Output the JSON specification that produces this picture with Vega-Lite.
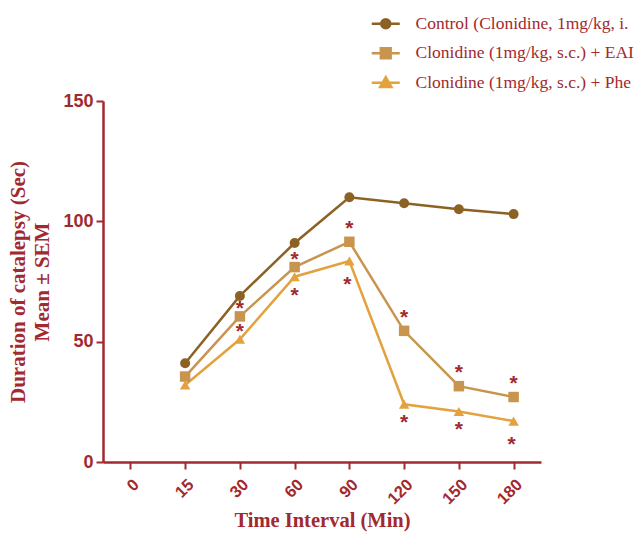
{
  "$schema": "https://vega.github.io/schema/vega-lite/v6.json",
  "autosize": "none",
  "width": 438,
  "height": 361,
  "padding": {"left": 103, "top": 101, "right": 100, "bottom": 74},
  "background": "white",
  "config": {"view": {"stroke": null}},
  "data": {"values": [
    {"time": "15", "series": "Control (Clonidine, 1mg/kg, i.", "value": 41, "sig": ""},
    {"time": "30", "series": "Control (Clonidine, 1mg/kg, i.", "value": 69, "sig": ""},
    {"time": "60", "series": "Control (Clonidine, 1mg/kg, i.", "value": 91, "sig": ""},
    {"time": "90", "series": "Control (Clonidine, 1mg/kg, i.", "value": 110, "sig": ""},
    {"time": "120", "series": "Control (Clonidine, 1mg/kg, i.", "value": 107.5, "sig": ""},
    {"time": "150", "series": "Control (Clonidine, 1mg/kg, i.", "value": 105, "sig": ""},
    {"time": "180", "series": "Control (Clonidine, 1mg/kg, i.", "value": 103, "sig": ""},
    {"time": "15", "series": "Clonidine (1mg/kg, s.c.) + EAI", "value": 35.5, "sig": ""},
    {"time": "30", "series": "Clonidine (1mg/kg, s.c.) + EAI", "value": 60.5, "sig": "*"},
    {"time": "60", "series": "Clonidine (1mg/kg, s.c.) + EAI", "value": 81, "sig": "*"},
    {"time": "90", "series": "Clonidine (1mg/kg, s.c.) + EAI", "value": 91.5, "sig": "*"},
    {"time": "120", "series": "Clonidine (1mg/kg, s.c.) + EAI", "value": 54.5, "sig": "*"},
    {"time": "150", "series": "Clonidine (1mg/kg, s.c.) + EAI", "value": 31.5, "sig": "*"},
    {"time": "180", "series": "Clonidine (1mg/kg, s.c.) + EAI", "value": 27, "sig": "*"},
    {"time": "15", "series": "Clonidine (1mg/kg, s.c.) + Phe", "value": 32, "sig": ""},
    {"time": "30", "series": "Clonidine (1mg/kg, s.c.) + Phe", "value": 51, "sig": "*"},
    {"time": "60", "series": "Clonidine (1mg/kg, s.c.) + Phe", "value": 77, "sig": "*"},
    {"time": "90", "series": "Clonidine (1mg/kg, s.c.) + Phe", "value": 83.5, "sig": "*"},
    {"time": "120", "series": "Clonidine (1mg/kg, s.c.) + Phe", "value": 24, "sig": "*"},
    {"time": "150", "series": "Clonidine (1mg/kg, s.c.) + Phe", "value": 21, "sig": "*"},
    {"time": "180", "series": "Clonidine (1mg/kg, s.c.) + Phe", "value": 17, "sig": "*"}
  ]},
  "encoding": {
    "x": {
      "field": "time", "type": "ordinal",
      "scale": {"type": "point", "padding": 0.5, "domain": ["0", "15", "30", "60", "90", "120", "150", "180"]},
      "axis": {
        "title": "Time Interval (Min)",
        "titleFont": "Liberation Serif", "titleFontSize": 20.5, "titleFontWeight": "bold", "titleColor": "#A2292E",
        "titlePadding": 3,
        "labelFont": "Liberation Sans", "labelFontSize": 16.5, "labelFontWeight": "bold", "labelColor": "#A2292E",
        "labelAngle": -45, "labelPadding": 7,
        "domainColor": "#A2292E", "domainWidth": 2.5,
        "tickColor": "#A2292E", "tickWidth": 2, "tickSize": 7,
        "grid": false
      }
    },
    "y": {
      "field": "value", "type": "quantitative",
      "scale": {"domain": [0, 150], "nice": false},
      "axis": {
        "title": ["Duration of catalepsy (Sec)", "Mean ± SEM"],
        "titleFont": "Liberation Serif", "titleFontSize": 21, "titleFontWeight": "bold", "titleColor": "#A2292E",
        "titlePadding": 10, "titleLineHeight": 24,
        "values": [0, 50, 100, 150],
        "labelFont": "Liberation Sans", "labelFontSize": 18, "labelFontWeight": "bold", "labelColor": "#A2292E",
        "labelPadding": 3,
        "domainColor": "#A2292E", "domainWidth": 2.5,
        "tickColor": "#A2292E", "tickWidth": 2, "tickSize": 7,
        "grid": false
      }
    }
  },
  "layer": [
    {
      "mark": {"type": "line", "strokeWidth": 2.5},
      "encoding": {
        "color": {
          "field": "series", "type": "nominal",
          "scale": {
            "domain": ["Control (Clonidine, 1mg/kg, i.", "Clonidine (1mg/kg, s.c.) + EAI", "Clonidine (1mg/kg, s.c.) + Phe"],
            "range": ["#8C6224", "#C8944E", "#E2A23E"]
          },
          "legend": {
            "title": null,
            "orient": "none", "legendX": 274, "legendY": -86,
            "labelFont": "Liberation Serif", "labelFontSize": 17.5, "labelColor": "#A2292E",
            "labelOffset": 21, "labelLimit": 400,
            "symbolSize": 196, "rowPadding": 8.5,
            "encode": {"symbols": {"update": {
              "shape": {"signal": "datum.index === 0 ? 'M-2,0H2M-0.65,0A0.65,0.65,0,1,0,0.65,0A0.65,0.65,0,1,0,-0.65,0Z' : datum.index === 1 ? 'M-2,0H2M-0.7,-0.7H0.7V0.7H-0.7Z' : 'M-2,0H2M0,-0.8L0.8,0.6H-0.8Z'"},
              "fill": {"scale": "color", "field": "value"},
              "stroke": {"scale": "color", "field": "value"},
              "strokeWidth": {"value": 2.5},
              "size": {"value": 196}
            }}}
          }
        }
      }
    },
    {
      "mark": {"type": "point", "filled": true, "size": 100, "opacity": 1, "shape": "circle"},
      "transform": [{"filter": "datum.series === 'Control (Clonidine, 1mg/kg, i.'"}],
      "encoding": {"color": {"field": "series", "type": "nominal", "legend": null}}
    },
    {
      "mark": {"type": "point", "filled": true, "size": 110, "opacity": 1, "shape": "square"},
      "transform": [{"filter": "datum.series === 'Clonidine (1mg/kg, s.c.) + EAI'"}],
      "encoding": {"color": {"field": "series", "type": "nominal", "legend": null}}
    },
    {
      "mark": {"type": "point", "filled": true, "size": 110, "opacity": 1, "shape": "triangle-up"},
      "transform": [{"filter": "datum.series === 'Clonidine (1mg/kg, s.c.) + Phe'"}],
      "encoding": {"color": {"field": "series", "type": "nominal", "legend": null}}
    },
    {
      "mark": {"type": "text", "font": "Liberation Sans", "fontSize": 21, "fontWeight": "bold", "color": "#A2292E", "baseline": "alphabetic", "dy": -1.5},
      "transform": [{"filter": "datum.series === 'Clonidine (1mg/kg, s.c.) + EAI' && (datum.time === '30' || datum.time === '60')"}],
      "encoding": {"text": {"field": "sig"}}
    },
    {
      "mark": {"type": "text", "font": "Liberation Sans", "fontSize": 21, "fontWeight": "bold", "color": "#A2292E", "baseline": "alphabetic", "dy": -7},
      "transform": [{"filter": "datum.series === 'Clonidine (1mg/kg, s.c.) + EAI' && datum.time !== '30' && datum.time !== '60'"}],
      "encoding": {"text": {"field": "sig"}}
    },
    {
      "mark": {"type": "text", "font": "Liberation Sans", "fontSize": 21, "fontWeight": "bold", "color": "#A2292E", "baseline": "alphabetic", "dy": -1.5},
      "transform": [{"filter": "datum.series === 'Clonidine (1mg/kg, s.c.) + Phe' && datum.time === '30'"}],
      "encoding": {"text": {"field": "sig"}}
    },
    {
      "mark": {"type": "text", "font": "Liberation Sans", "fontSize": 21, "fontWeight": "bold", "color": "#A2292E", "baseline": "alphabetic", "dy": 25},
      "transform": [{"filter": "datum.series === 'Clonidine (1mg/kg, s.c.) + Phe' && (datum.time === '60' || datum.time === '120' || datum.time === '150')"}],
      "encoding": {"text": {"field": "sig"}}
    },
    {
      "mark": {"type": "text", "font": "Liberation Sans", "fontSize": 21, "fontWeight": "bold", "color": "#A2292E", "baseline": "alphabetic", "dy": 29.5, "dx": -2},
      "transform": [{"filter": "datum.series === 'Clonidine (1mg/kg, s.c.) + Phe' && (datum.time === '90' || datum.time === '180')"}],
      "encoding": {"text": {"field": "sig"}}
    }
  ]
}
